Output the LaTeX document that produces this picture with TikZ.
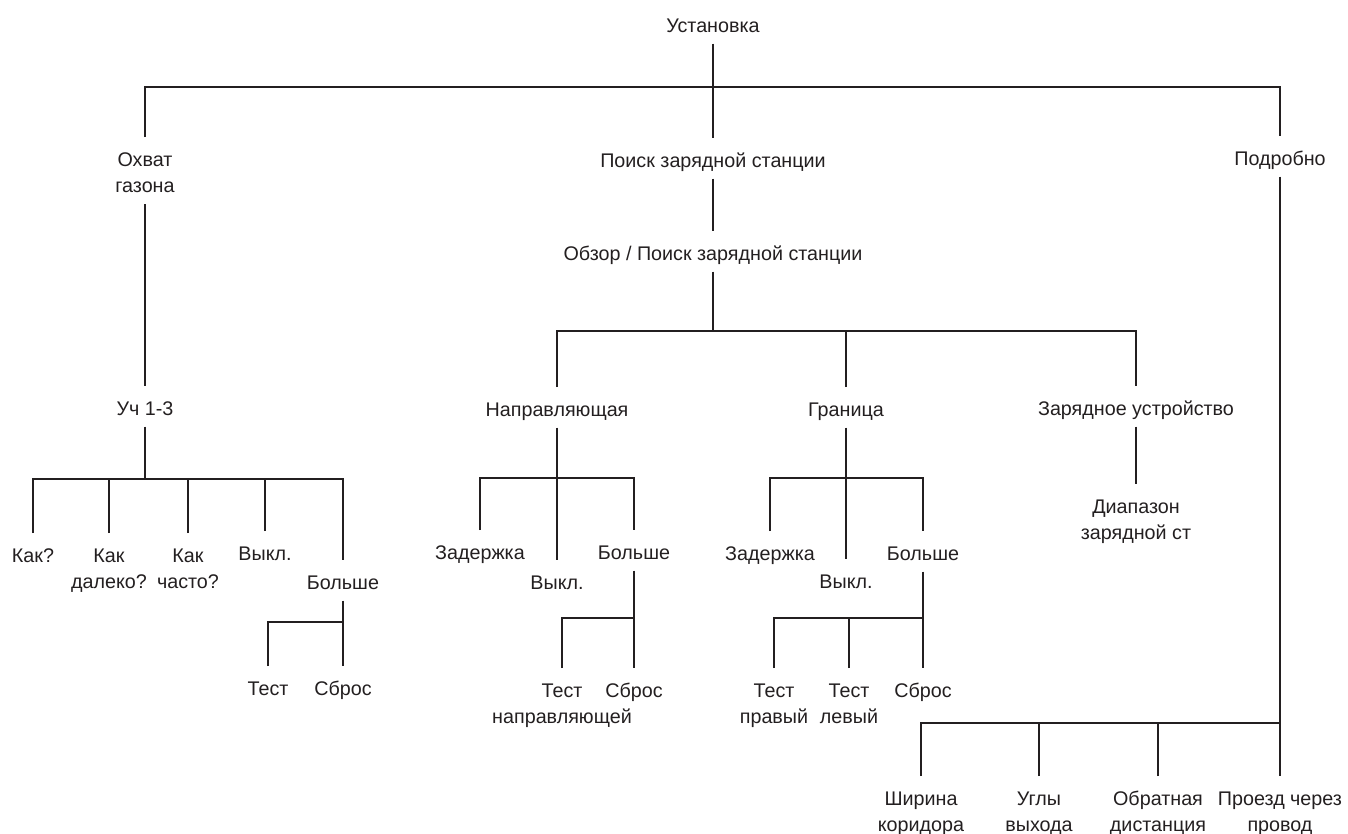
\documentclass[tikz,border=0pt]{standalone}
\usepackage{fontspec}
\setmainfont{Liberation Sans}
\definecolor{ink}{HTML}{231F20}
\newcommand{\topstrut}{\rule{0pt}{21.75pt}}
\newcommand{\botstrut}{\rule[-8.25pt]{0pt}{8.25pt}}
\newcommand{\twolines}[2]{\topstrut#1\\#2\botstrut}
\tikzset{
  lbl/.style={font=\fontsize{14.8}{20}\selectfont, text=ink, align=center,
    anchor=north, inner xsep=1pt, inner ysep=0pt},
  one/.style={lbl,
    execute at begin node={\topstrut},
    execute at end node={\botstrut}},
  link/.style={draw=ink, line width=2pt},
}
\begin{document}
\begin{tikzpicture}[x=0.75pt, y=-0.75pt]
  \useasboundingbox (0,0) rectangle (1348,833);

  % --- Ebene 0/1 ---
  \node[one] (ust)   at (713,3)    {Установка};
  \node[lbl] (oxv)   at (145,137)  {\twolines{Охват}{газона}};
  \node[one] (poisk) at (713,138)  {Поиск зарядной станции};
  \node[one] (podr)  at (1280,136) {Подробно};
  \node[one] (obzor) at (713,231)  {Обзор / Поиск зарядной станции};

  % --- Ebene 2 ---
  \node[one] (uch)  at (145,386)  {Уч 1-3};
  \node[one] (napr) at (557,387)  {Направляющая};
  \node[one] (gran) at (846,387)  {Граница};
  \node[one] (zar)  at (1136,386) {Зарядное устройство};
  \node[lbl] (diap) at (1136,484) {\twolines{Диапазон}{зарядной ст}};

  % --- Уч 1-3 ---
  \node[one] (kak1)   at (33,533)  {Как?};
  \node[lbl] (kak2)   at (109,533) {\twolines{Как}{далеко?}};
  \node[lbl] (kak3)   at (188,533) {\twolines{Как}{часто?}};
  \node[one] (vykl1)  at (265,531) {Выкл.};
  \node[one] (bol1)   at (343,560) {Больше};
  \node[one] (test1)  at (268,666) {Тест};
  \node[one] (sbros1) at (343,666) {Сброс};

  % --- Направляющая ---
  \node[one] (zad1)   at (480,530) {Задержка};
  \node[one] (vykl2)  at (557,560) {Выкл.};
  \node[one] (bol2)   at (634,530) {Больше};
  \node[lbl] (test2)  at (562,668) {\twolines{Тест}{направляющей}};
  \node[one] (sbros2) at (634,668) {Сброс};

  % --- Граница ---
  \node[one] (zad2)   at (770,531) {Задержка};
  \node[one] (vykl3)  at (846,559) {Выкл.};
  \node[one] (bol3)   at (923,531) {Больше};
  \node[lbl] (test3)  at (774,668) {\twolines{Тест}{правый}};
  \node[lbl] (test4)  at (849,668) {\twolines{Тест}{левый}};
  \node[one] (sbros3) at (923,668) {Сброс};

  % --- Подробно ---
  \node[lbl] (shir)   at (921,776)  {\twolines{Ширина}{коридора}};
  \node[lbl] (ugly)   at (1039,776) {\twolines{Углы}{выхода}};
  \node[lbl] (obr)    at (1158,776) {\twolines{Обратная}{дистанция}};
  \node[lbl] (proezd) at (1280,776) {\twolines{Проезд через}{провод}};

  % --- Querbalken ---
  \coordinate (b-top)  at (0,87);
  \coordinate (b-uch)  at (0,479);
  \coordinate (b-bol1) at (0,622);
  \coordinate (b-obz)  at (0,331);
  \coordinate (b-napr) at (0,478);
  \coordinate (b-bol2) at (0,618);
  \coordinate (b-gran) at (0,478);
  \coordinate (b-bol3) at (0,618);
  \coordinate (b-podr) at (0,723);

  % --- Verbindungen oben ---
  \draw[link] (ust.south) -- (poisk.north);
  \draw[link] (oxv.north) |- (podr.north |- b-top) -- (podr.north);
  \draw[link] (oxv.south) -- (uch.north);
  \draw[link] (poisk.south) -- (obzor.north);
  \draw[link] (obzor.south) -- (obzor.south |- b-obz);
  \draw[link] (napr.north) |- (zar.north |- b-obz) -- (zar.north);
  \draw[link] (gran.north) -- (gran.north |- b-obz);
  \draw[link] (zar.south) -- (diap.north);

  % --- Уч 1-3 ---
  \draw[link] (uch.south) -- (uch.south |- b-uch);
  \draw[link] (kak1.north) |- (bol1.north |- b-uch) -- (bol1.north);
  \foreach \n in {kak2,kak3,vykl1}
    \draw[link] (\n.north) -- (\n.north |- b-uch);
  \draw[link] (bol1.south) -- (sbros1.north);
  \draw[link] (test1.north) |- (bol1.south |- b-bol1);

  % --- Направляющая ---
  \draw[link] (napr.south) -- (vykl2.north);
  \draw[link] (zad1.north) |- (bol2.north |- b-napr) -- (bol2.north);
  \draw[link] (bol2.south) -- (sbros2.north);
  \draw[link] (test2.north) |- (bol2.south |- b-bol2);

  % --- Граница ---
  \draw[link] (gran.south) -- (vykl3.north);
  \draw[link] (zad2.north) |- (bol3.north |- b-gran) -- (bol3.north);
  \draw[link] (bol3.south) -- (sbros3.north);
  \draw[link] (test3.north) |- (bol3.south |- b-bol3);
  \draw[link] (test4.north) -- (test4.north |- b-bol3);

  % --- Подробно ---
  \draw[link] (podr.south) -- (proezd.north);
  \draw[link] (shir.north) |- (proezd.north |- b-podr);
  \foreach \n in {ugly,obr}
    \draw[link] (\n.north) -- (\n.north |- b-podr);

\end{tikzpicture}
\end{document}
